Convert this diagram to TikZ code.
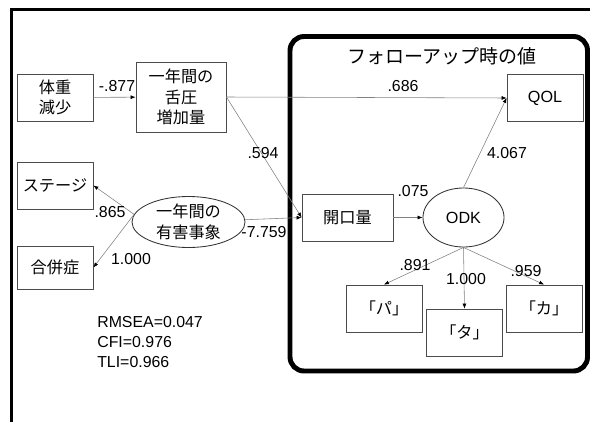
\documentclass[tikz,border=0pt]{standalone}
\usepackage{fontspec}
\setmainfont{Liberation Sans}
\newfontfamily\jp{Noto Sans CJK JP}
\usetikzlibrary{
  arrows.meta,
  shapes
}

\begin{document}
\begin{tikzpicture}[x=0.025cm, y=-0.025cm,
  every node/.style = {font=\fontsize{11.3}{14.2}\selectfont},
  box/.style = {draw=black!70, line width=0.6pt, align=center,
    minimum width=1.9cm, minimum height=1.175cm, inner sep=1pt,
    font=\jp\fontsize{11.5}{14.5}\selectfont},
  latent/.style = {ellipse, draw=black!80, line width=0.6pt, align=center,
    inner sep=0pt, font=\jp\fontsize{11.5}{14.5}\selectfont},
  arr/.style = {draw=black!50, line width=0.4pt,
    -{Latex[length=3.5pt,width=2.8pt,black]}},
  coef/.style = {inner sep=0pt}]
  \useasboundingbox (0,0) rectangle (590,421);
  % frames
  \draw[line width=2pt] (592,9.5) -- (11.5,9.5) -- (11.5,423);
  \draw[line width=3.5pt, rounded corners=0.35cm] (290,36.5) rectangle (587.5,371);
  \node (title) at (442,56) {\jp\fontsize{13.5}{16}\selectfont フォローアップ時の値};
  % variables
  \node[box] (weight) at (55,97.5) {体重\\減少};
  \node[box, minimum width=2.25cm, minimum height=1.75cm] (tongue) at (181,97) {一年間の\\舌圧\\増加量};
  \node[box] (stage) at (55,185.5) {ステージ};
  \node[box, minimum height=1.075cm] (comp) at (55,267.5) {合併症};
  \node[latent, minimum width=2.825cm, minimum height=1.275cm] (adverse) at (188.5,222) {一年間の\\有害事象};
  \node[box, minimum width=2.275cm] (mouth) at (347.5,217.5) {開口量};
  \node[latent, minimum width=2.025cm, minimum height=1.475cm,
    font=\fontsize{11.5}{14}\selectfont] (odk) at (463.5,217.5) {ODK};
  \node[box, font=\fontsize{11.5}{14}\selectfont] (qol) at (545,98) {QOL};
  \node[box] (pa) at (384,308.5) {「パ」};
  \node[box] (ta) at (464.5,332.5) {「タ」};
  \node[box] (ka) at (544,308.5) {「カ」};
  % paths
  \draw[arr] (weight) -- (tongue);
  \draw[arr] (tongue.east) -- (qol.west);
  \draw[arr] (tongue.east) -- (mouth.west);
  \draw[arr] (adverse) -- (mouth.west);
  \draw[arr] (adverse.172) -- (stage.east);
  \draw[arr] (adverse.172) -- (comp.east);
  \draw[arr] (mouth) -- (odk);
  \draw[arr] (odk.north) -- (qol.west);
  \draw[arr] (odk.south) -- (pa.north);
  \draw[arr] (odk.south) -- (ta.north);
  \draw[arr] (odk.south) -- (ka.north);
  % coefficients
  \node[coef] (c-weight) at (117,86) {-.877};
  \node[coef] (c-qol) at (403,86) {.686};
  \node[coef] (c-mouth) at (263,153) {.594};
  \node[coef] (c-odkqol) at (507,153.5) {4.067};
  \node[coef] (c-odk) at (413,191) {.075};
  \node[coef] (c-stage) at (110,212.5) {.865};
  \node[coef] (c-comp) at (131,259) {1.000};
  \node[coef] (c-adverse) at (264,232.5) {-7.759};
  \node[coef] (c-pa) at (415,265) {.891};
  \node[coef] (c-ta) at (466,279) {1.000};
  \node[coef] (c-ka) at (526,271) {.959};
  % fit
  \node[coef, anchor=west, align=left] (fit) at (97,342) {RMSEA=0.047\\CFI=0.976\\TLI=0.966};
\end{tikzpicture}
\end{document}
